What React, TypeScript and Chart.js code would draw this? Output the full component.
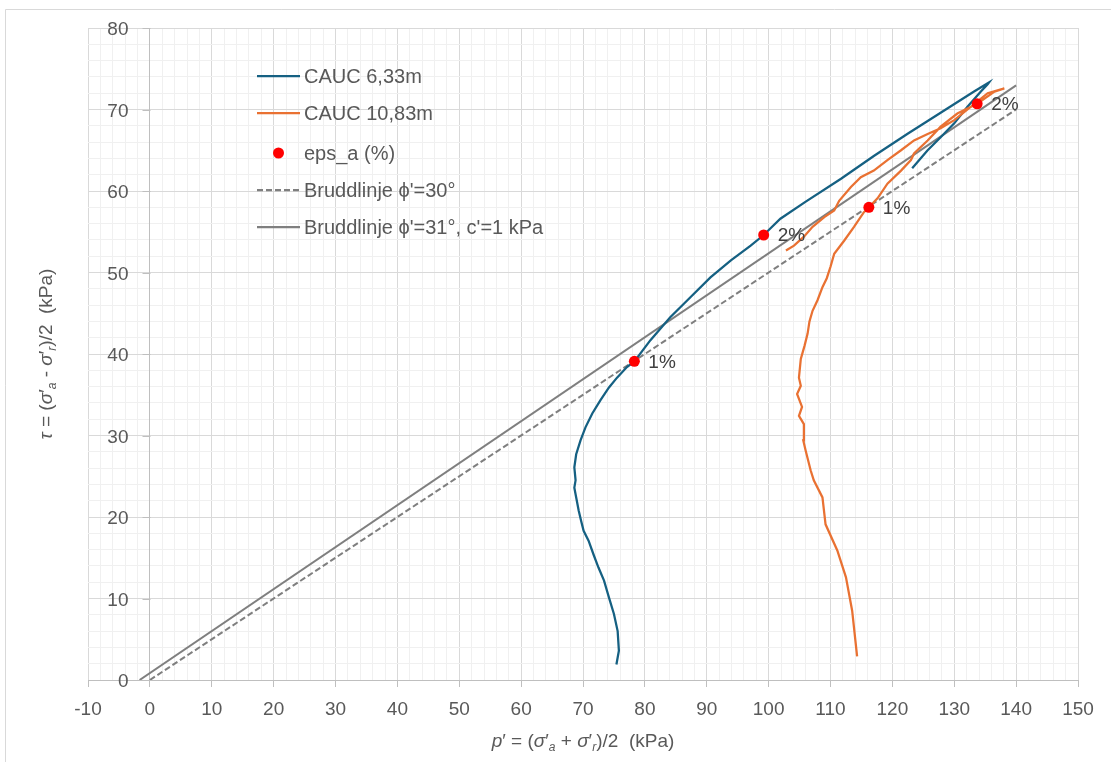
import { useEffect, useRef } from 'react';
import { Chart, registerables } from 'chart.js';

Chart.register(...registerables);

// ---- Data ----
const blueX = [75.4, 75.8, 75.6, 75.0, 74.2, 73.4, 72.5, 71.7, 70.9, 70.1, 69.7, 69.3, 68.9, 68.6, 68.8, 68.6, 68.9, 69.6, 70.4, 71.5, 72.8, 74.2, 75.5, 77.1, 78.3, 80.9, 84.1, 87.4, 90.6, 93.9, 97.1, 99.2, 101.9, 106.0, 111.7, 117.0, 122.4, 127.8, 133.2, 135.6, 135.4, 134.3, 132.1, 130.0, 127.8, 125.7, 123.2];
const blueY = [1.9, 3.6, 6.0, 8.1, 10.1, 12.2, 13.8, 15.4, 17.1, 18.3, 19.5, 20.8, 22.4, 23.6, 24.5, 26.1, 27.7, 29.4, 31.0, 32.7, 34.3, 35.9, 37.1, 38.4, 39.1, 41.7, 44.5, 47.0, 49.4, 51.5, 53.3, 54.6, 56.6, 58.7, 61.5, 64.3, 67.0, 69.6, 72.2, 73.3, 73.1, 72.2, 70.3, 68.3, 66.6, 65.0, 62.8];

const orangeX = [114.3, 113.5, 112.5, 111.1, 109.2, 108.7, 107.3, 106.8, 106.0, 105.6, 105.7, 104.9, 105.4, 104.6, 105.2, 104.9, 105.2, 105.8, 106.3, 106.6, 107.1, 107.9, 108.7, 109.4, 110.0, 110.6, 112.2, 113.8, 115.4, 116.2, 117.6, 119.2, 121.4, 123.0, 123.5, 125.7, 127.8, 130.5, 133.7, 136.5, 138.1, 135.4, 130.0, 127.8, 125.7, 123.5, 121.4, 119.2, 117.0, 114.9, 113.3, 111.4, 110.6, 109.0, 107.1, 105.7, 104.1, 102.8];
const orangeY = [2.9, 8.5, 12.6, 15.9, 19.1, 22.4, 24.5, 25.7, 28.1, 29.4, 31.4, 32.4, 33.5, 35.1, 36.1, 37.1, 39.4, 41.0, 42.5, 44.0, 45.3, 46.6, 48.2, 49.3, 50.7, 52.3, 53.9, 55.6, 57.4, 58.0, 59.1, 60.9, 62.5, 63.8, 64.6, 66.2, 67.9, 69.5, 70.7, 72.2, 72.6, 72.0, 68.7, 67.7, 67.0, 66.2, 65.0, 63.8, 62.5, 61.7, 60.5, 58.8, 57.6, 56.8, 55.6, 54.4, 53.3, 52.7];

const epsX = [78.3, 99.2, 116.2, 133.7];
const epsY = [39.1, 54.6, 58.0, 70.7];
const epsLabels = ['1%', '2%', '1%', '2%'];

const line30X = [0, 140];
const line30Y = [0, 70];
const line31X = [-1.66, 140];
const line31Y = [0, 72.96];

const seriesNames = ['CAUC 6,33m', 'CAUC 10,83m', 'eps_a (%)', "Bruddlinje \u03D5'=30\u00B0", "Bruddlinje \u03D5'=31\u00B0, c'=1 kPa"];

const FONT = "'Liberation Sans', Arial, sans-serif";
const TEXT = '#595959';
const BLUE = '#156082';
const ORANGE = '#E97132';
const GRAY = '#7f7f7f';
const RED = '#ff0000';

const pts = (xs: number[], ys: number[]) => xs.map((x, i) => ({ x, y: ys[i] }));

type Seg = { t: string; it?: boolean; sub?: boolean };

function drawRich(ctx: CanvasRenderingContext2D, segs: Seg[], cx: number, cy: number, size: number) {
  const fontFor = (s: Seg) => `${s.it ? 'italic ' : ''}${s.sub ? Math.round(size * 0.62) : size}px ${FONT}`;
  let w = 0;
  for (const s of segs) {
    ctx.font = fontFor(s);
    w += ctx.measureText(s.t).width;
  }
  let x = cx - w / 2;
  ctx.textAlign = 'left';
  ctx.textBaseline = 'middle';
  for (const s of segs) {
    ctx.font = fontFor(s);
    ctx.fillText(s.t, x, cy + (s.sub ? size * 0.3 : 0));
    x += ctx.measureText(s.t).width;
  }
}

const isMajor = (v: number) => Math.abs(Math.round(v) % 10) === 0 && Math.abs(v - Math.round(v)) < 1e-6;

const framePlugin = {
  id: 'frame',
  beforeDraw(chart: any) {
    const ctx = chart.ctx as CanvasRenderingContext2D;
    ctx.save();
    ctx.fillStyle = '#ffffff';
    ctx.fillRect(0, 0, chart.width, chart.height);
    ctx.strokeStyle = '#d9d9d9';
    ctx.lineWidth = 1;
    ctx.beginPath();
    ctx.moveTo(5.5, chart.height);
    ctx.lineTo(5.5, 9.5);
    ctx.lineTo(chart.width, 9.5);
    ctx.stroke();
    ctx.restore();
  },
};

const decorPlugin = {
  id: 'decor',
  afterDatasetsDraw(chart: any) {
    const ctx = chart.ctx as CanvasRenderingContext2D;
    ctx.save();
    const meta = chart.getDatasetMeta(2);
    ctx.fillStyle = '#404040';
    ctx.font = `19px ${FONT}`;
    ctx.textAlign = 'left';
    ctx.textBaseline = 'middle';
    meta.data.forEach((p: any, i: number) => {
      ctx.fillText(epsLabels[i], p.x + 14, p.y + 1);
    });
    ctx.restore();
  },
  afterDraw(chart: any) {
    const ctx = chart.ctx as CanvasRenderingContext2D;
    ctx.save();
    // y-axis tick marks and labels at the x = 0 crossing
    const xs = chart.scales.x;
    const ys = chart.scales.y;
    const x0 = Math.round(xs.getPixelForValue(0)) + 0.5;
    ctx.strokeStyle = '#bfbfbf';
    ctx.lineWidth = 1;
    ctx.fillStyle = TEXT;
    ctx.font = `19px ${FONT}`;
    ctx.textAlign = 'right';
    ctx.textBaseline = 'middle';
    ys.ticks.forEach((t: any) => {
      if (!isMajor(t.value)) return;
      const py = Math.round(ys.getPixelForValue(t.value)) + 0.5;
      ctx.beginPath();
      ctx.moveTo(x0 - 8, py);
      ctx.lineTo(x0, py);
      ctx.stroke();
      ctx.fillText(String(t.value), x0 - 22, py + 1);
    });
    // legend
    const rows = [76, 113, 153, 190, 227];
    const lx0 = 257, lx1 = 300, tx = 304;
    ctx.font = `20px ${FONT}`;
    ctx.textAlign = 'left';
    ctx.textBaseline = 'middle';
    rows.forEach((ry, i) => {
      ctx.setLineDash([]);
      if (i === 2) {
        ctx.fillStyle = RED;
        ctx.beginPath();
        ctx.arc((lx0 + lx1) / 2, ry, 5.5, 0, Math.PI * 2);
        ctx.fill();
      } else {
        ctx.strokeStyle = i === 0 ? BLUE : i === 1 ? ORANGE : GRAY;
        ctx.lineWidth = 2.25;
        if (i === 3) ctx.setLineDash([6, 3]);
        ctx.beginPath();
        ctx.moveTo(lx0, ry);
        ctx.lineTo(lx1, ry);
        ctx.stroke();
      }
      ctx.setLineDash([]);
      ctx.fillStyle = TEXT;
      ctx.fillText(seriesNames[i], tx, ry + 1);
    });
    // axis titles
    const ca = chart.chartArea;
    ctx.fillStyle = TEXT;
    drawRich(ctx, [
      { t: 'p', it: true }, { t: '\u2032 = (' }, { t: '\u03C3', it: true }, { t: '\u2032' }, { t: 'a', it: true, sub: true },
      { t: ' + ' }, { t: '\u03C3', it: true }, { t: '\u2032' }, { t: 'r', it: true, sub: true }, { t: ')/2  (kPa)' },
    ], (ca.left + ca.right) / 2, 742, 19);
    ctx.translate(47, 354);
    ctx.rotate(-Math.PI / 2);
    drawRich(ctx, [
      { t: '\u03C4', it: true }, { t: ' = (' }, { t: '\u03C3', it: true }, { t: '\u2032' }, { t: 'a', it: true, sub: true },
      { t: ' - ' }, { t: '\u03C3', it: true }, { t: '\u2032' }, { t: 'r', it: true, sub: true }, { t: ')/2  (kPa)' },
    ], 0, 0, 19);
    ctx.restore();
  },
};

export default function App() {
  const ref = useRef<HTMLCanvasElement>(null);
  useEffect(() => {
    const chart = new Chart(ref.current!, {
      type: 'scatter',
      data: {
        datasets: [
          { label: seriesNames[0], data: pts(blueX, blueY), showLine: true, borderColor: BLUE, backgroundColor: BLUE, borderWidth: 2.25, pointRadius: 0, order: 2 },
          { label: seriesNames[1], data: pts(orangeX, orangeY), showLine: true, borderColor: ORANGE, backgroundColor: ORANGE, borderWidth: 2.25, pointRadius: 0, order: 1 },
          { label: seriesNames[2], data: pts(epsX, epsY), showLine: false, backgroundColor: RED, borderColor: RED, pointRadius: 5.5, pointBorderWidth: 0, order: 0 },
          { label: seriesNames[3], data: pts(line30X, line30Y), showLine: true, borderColor: GRAY, borderWidth: 2, borderDash: [6, 3], pointRadius: 0, order: 4 },
          { label: seriesNames[4], data: pts(line31X, line31Y), showLine: true, borderColor: GRAY, borderWidth: 2, pointRadius: 0, order: 3 },
        ] as any,
      },
      options: {
        responsive: false,
        animation: false,
        devicePixelRatio: 1,
        layout: { padding: { left: 88, top: 28, right: 33, bottom: 0 } },
        plugins: { legend: { display: false }, tooltip: { enabled: false } },
        scales: {
          x: {
            type: 'linear',
            min: -10,
            max: 150,
            afterFit: (s: any) => { s.height = 82; },
            ticks: {
              stepSize: 2,
              autoSkip: false,
              maxRotation: 0,
              maxTicksLimit: 200,
              padding: 11,
              color: TEXT,
              font: { family: FONT, size: 19 },
              callback: (v: any) => (isMajor(Number(v)) ? String(v) : ''),
            },
            grid: {
              color: (c: any) => (c.tick && Math.abs(c.tick.value) < 1e-6 ? '#bfbfbf' : c.tick && isMajor(c.tick.value) ? '#d9d9d9' : '#f0f0f0'),
              tickColor: (c: any) => (c.tick && isMajor(c.tick.value) ? '#bfbfbf' : 'rgba(0,0,0,0)'),
              tickLength: 7,
              lineWidth: 1,
            },
            border: { color: '#bfbfbf' },
          },
          y: {
            type: 'linear',
            position: { x: 0 } as any,
            min: 0,
            max: 80,
            ticks: {
              display: false,
              stepSize: 2,
              autoSkip: false,
              maxTicksLimit: 200,
            },
            grid: {
              color: (c: any) => (c.tick && isMajor(c.tick.value) ? '#d9d9d9' : '#f0f0f0'),
              drawTicks: false,
              lineWidth: 1,
            },
            border: { color: '#bfbfbf' },
          },
        } as any,
      },
      plugins: [framePlugin, decorPlugin],
    });
    return () => chart.destroy();
  }, []);
  return (
    <div style={{ position: 'absolute', left: 0, top: 0, width: 1111, height: 762, background: '#fff' }}>
      <canvas ref={ref} width={1111} height={762} style={{ width: 1111, height: 762, display: 'block' }} />
    </div>
  );
}
